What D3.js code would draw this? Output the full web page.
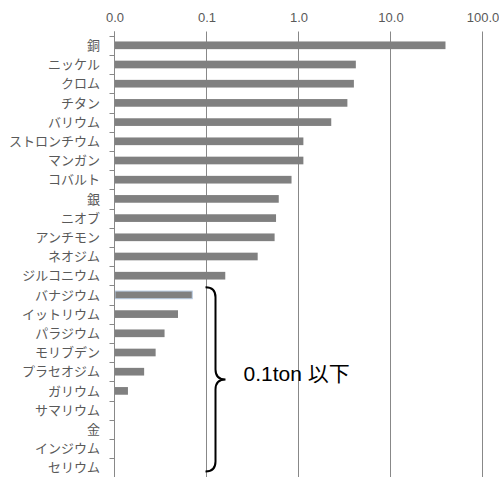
<!DOCTYPE html>
<html><head><meta charset="utf-8">
<script src="https://cdn.jsdelivr.net/npm/d3@7"></script>
<style>body{margin:0;background:#fff}svg{display:block}</style>
</head><body>
<svg id="c" width="499" height="477"></svg>
<script>
const categories = ["銅","ニッケル","クロム","チタン","バリウム","ストロンチウム","マンガン","コバルト","銀","ニオブ","アンチモン","ネオジム","ジルコニウム","バナジウム","イットリウム","パラジウム","モリブデン","プラセオジム","ガリウム","サマリウム","金","インジウム","セリウム"];
const values = [39.6, 4.2, 4.0, 3.4, 2.27, 1.13, 1.13, 0.84, 0.61, 0.57, 0.55, 0.36, 0.16, 0.070, 0.049, 0.035, 0.028, 0.021, 0.014, 0.008, 0.006, 0.005, 0.004];
const tickValues = [0.01, 0.1, 1, 10, 100];
const noteText = "0.1ton 以下";
const noteFrom = "バナジウム", noteTo = "セリウム";

const svg = d3.select("#c");
const x = d3.scaleLog().domain([0.01, 100]).range([114.5, 482.5]).clamp(true);
const y = d3.scaleBand().domain(categories).range([35.7, 477.3]).paddingInner(0.6).paddingOuter(0.3);
const step = y.step();
const plotTop = 31.5, plotBottom = 477.3;

// gridlines
svg.append("g").selectAll("line").data(tickValues).join("line")
  .attr("x1", d => x(d)).attr("x2", d => x(d))
  .attr("y1", plotTop).attr("y2", plotBottom)
  .attr("stroke", "#888").attr("stroke-width", 1);

// top axis labels
const ax = svg.append("g").attr("transform", `translate(0,${plotTop})`)
  .call(d3.axisTop(x).tickValues(tickValues).tickFormat(d3.format(".1f")).tickSize(0).tickPadding(10));
ax.select(".domain").remove();
ax.selectAll("text").attr("font-family", "Liberation Sans, Arial, sans-serif").attr("font-size", 13).attr("fill", "#595959");

// bars
svg.append("g").selectAll("rect").data(categories).join("rect")
  .attr("x", x(0.01) + 0.5)
  .attr("y", d => y(d))
  .attr("width", (d, i) => Math.max(0, x(values[i]) - x(0.01) - 0.5))
  .attr("height", y.bandwidth())
  .attr("fill", "#808080")
  .attr("stroke", d => d === noteFrom ? "#b8cce4" : "none")
  .attr("stroke-width", 1);

// left axis line & ticks
svg.append("line").attr("x1", x(0.01)).attr("x2", x(0.01)).attr("y1", plotTop).attr("y2", plotBottom)
  .attr("stroke", "#888");
svg.append("g").selectAll("line").data(categories).join("line")
  .attr("x1", x(0.01) - 5).attr("x2", x(0.01))
  .attr("y1", d => Math.round(y(d) - step * 0.3) + 0.5)
  .attr("y2", d => Math.round(y(d) - step * 0.3) + 0.5)
  .attr("stroke", "#888");

// category labels
svg.append("g").selectAll("text").data(categories).join("text")
  .attr("x", 100).attr("y", d => y(d) + y.bandwidth() / 2)
  .attr("dy", "0.36em")
  .attr("text-anchor", "end")
  .attr("font-family", "Noto Sans CJK JP, sans-serif").attr("font-size", 13)
  .attr("fill", "#595959")
  .text(d => d);

// brace
const y0 = y(noteFrom) - step * 0.2, y1 = y(noteTo) + step * 0.4;
const ym = (y0 + y1) / 2;
const bx = x(0.1) - 1, bw = 10, tip = 20;
const p = d3.path();
p.moveTo(bx, y0);
p.quadraticCurveTo(bx + bw, y0, bx + bw, y0 + 10);
p.lineTo(bx + bw, ym - 10);
p.quadraticCurveTo(bx + bw, ym, bx + tip, ym);
p.quadraticCurveTo(bx + bw, ym, bx + bw, ym + 10);
p.lineTo(bx + bw, y1 - 10);
p.quadraticCurveTo(bx + bw, y1, bx, y1);
svg.append("path").attr("d", p.toString()).attr("fill", "none").attr("stroke", "#000").attr("stroke-width", 2);

svg.append("text").attr("x", bx + tip + 18).attr("y", ym - 4)
  .attr("font-family", "Liberation Sans, Noto Sans CJK JP, sans-serif").attr("font-size", 21)
  .attr("fill", "#000").attr("dominant-baseline", "middle")
  .text(noteText);
</script>
</body></html>
